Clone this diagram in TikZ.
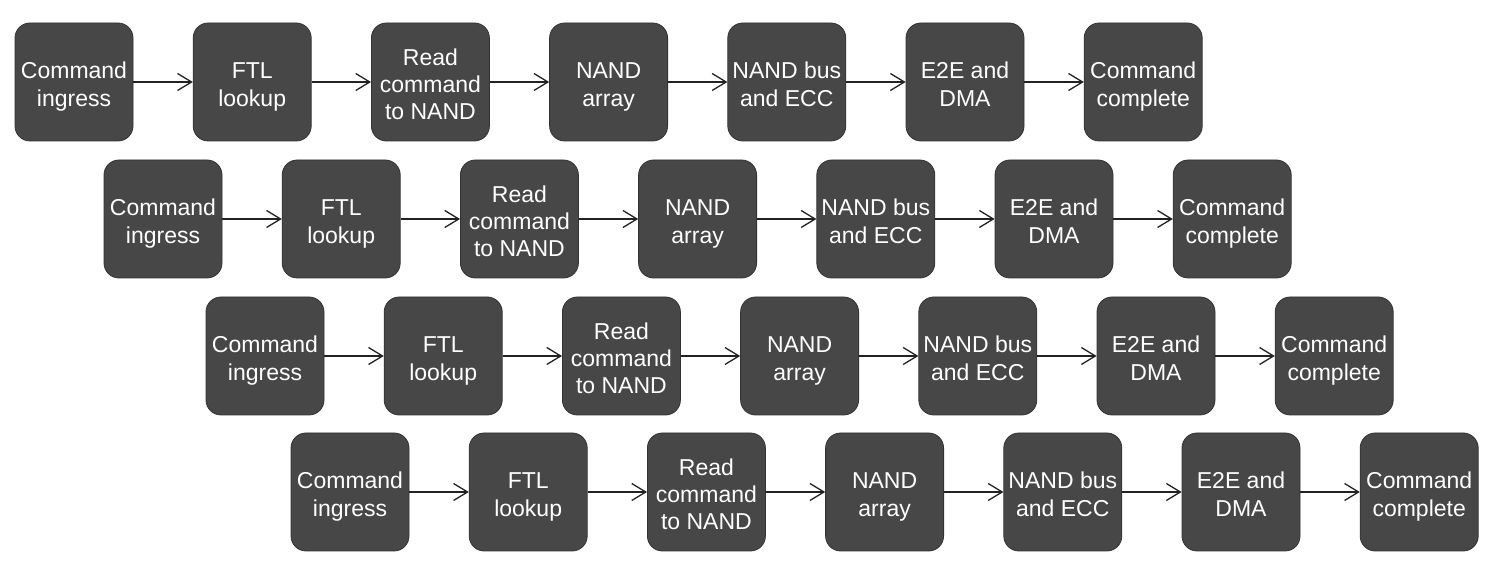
\documentclass[tikz,border=0pt]{standalone}
\usepackage{fontspec}
\setmainfont{Liberation Sans}
\usetikzlibrary{arrows.meta}
\definecolor{boxfill}{HTML}{474747}
\definecolor{boxline}{HTML}{333333}
\definecolor{arrowcol}{HTML}{222222}
\newcommand\stagetext[1]{\raisebox{-5pt}[\height][\depth]{\begin{tabular}{@{}c@{}}#1\end{tabular}}}
\begin{document}
\begin{tikzpicture}[x=1pt,y=1pt,
  stagebox/.style={draw=boxline, line width=0.8pt, fill=boxfill, rounded corners=15pt,
    minimum width=118pt, minimum height=118pt, inner sep=0pt,
    text=white, font=\fontsize{23}{27.2}\selectfont},
  flow/.style={draw=arrowcol, line width=1.3pt, -{Straight Barb[length=14pt,width=17pt,line width=1.3pt]}}]
\useasboundingbox[fill=white] (0,0) rectangle (1500,575);
\foreach \r/\xo/\yt in {1/15/23, 2/104/160, 3/206/297, 4/291/433}{
  \foreach \i/\t in {1/{Command\\ingress}, 2/{FTL\\lookup}, 3/{Read\\command\\to NAND}, 4/{NAND\\array}, 5/{NAND bus\\and ECC}, 6/{E2E and\\DMA}, 7/{Command\\complete}}{
    \node[stagebox] (r\r n\i) at ({\xo+59+(\i-1)*178.2}, {575-\yt-59}) {\stagetext{\t}};
  }
  \foreach \a/\b in {1/2,2/3,3/4,4/5,5/6,6/7}{
    \draw[flow] (r\r n\a.east) -- (r\r n\b.west);
  }
}
\end{tikzpicture}
\end{document}
